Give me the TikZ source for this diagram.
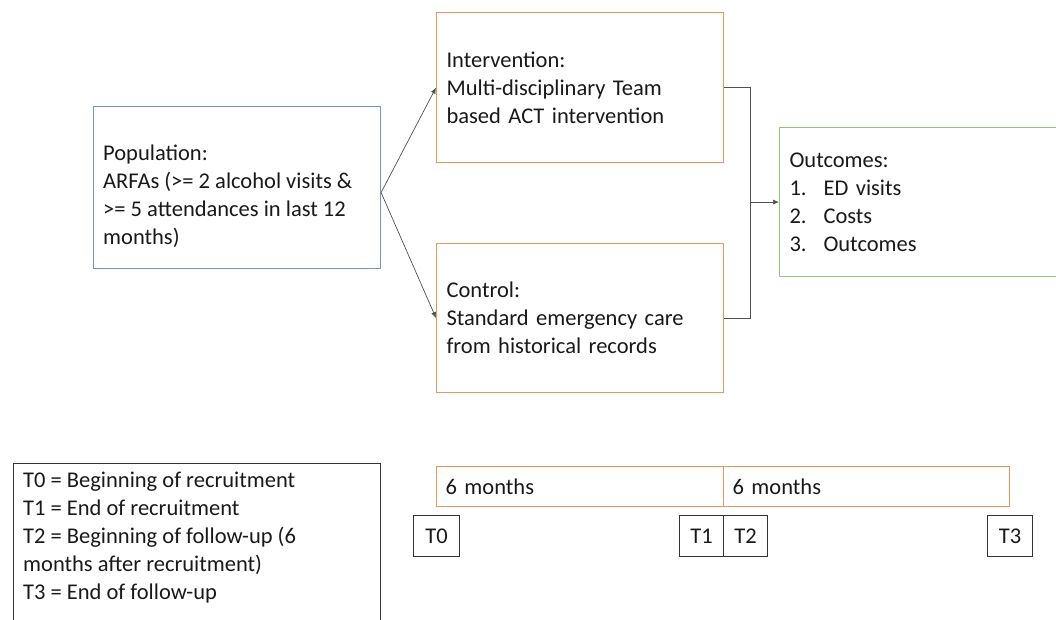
\documentclass[tikz,border=0pt]{standalone}
\usepackage{fontspec}
\setmainfont{Carlito}
\usetikzlibrary{arrows.meta,calc}
\definecolor{borange}{RGB}{232,150,95}
\definecolor{bblue}{RGB}{115,145,205}
\definecolor{bgreen}{RGB}{145,195,115}
\definecolor{conn}{RGB}{80,80,80}
\tikzset{
  box/.style={draw, rectangle, anchor=north west, line width=1.1pt, inner xsep=10pt, inner ysep=0pt,
    align=left, font=\fontsize{22.5}{28}\selectfont, text=black!90},
  txt/.style={anchor=west, inner sep=0pt, align=left, font=\fontsize{22.5}{28}\selectfont, text=black!90},
  tbox/.style={draw=black!80, rectangle, anchor=north west, line width=1pt, inner sep=0pt,
    minimum width=46pt, minimum height=41pt, font=\fontsize{22.5}{24}\selectfont, text=black!90},
  conline/.style={draw=conn, line width=0.7pt},
  arr/.style={conline, -{Latex[length=6pt,width=5pt]}},
}
\begin{document}
\begin{tikzpicture}[x=1pt,y=-1pt]
\useasboundingbox (0,0) rectangle (1056,619);
\clip (0,0) rectangle (1056,619);
% population
\node[box, draw=bblue, minimum width=287pt, minimum height=162pt] (pop) at (93,106) {};
\node[txt] (popt) at (103,196)
  {Population:\\ARFAs (>= 2 alcohol visits \&\\>= 5 attendances in last 12\\months)};
% intervention
\node[box, draw=borange, text width=267pt, minimum height=150pt] (int) at (436,12)
  {Intervention:\\Multi-disciplinary Team\\based ACT intervention};
% control
\node[box, draw=borange, text width=267pt, minimum height=149pt] (ctl) at (436,243)
  {Control:\\Standard emergency care\\from historical records};
% outcomes
\node[box, draw=bgreen, text width=280pt, minimum height=149pt] (out) at (779,127)
  {Outcomes:\\\makebox[34pt][l]{1.}ED visits\\\makebox[34pt][l]{2.}Costs\\\makebox[34pt][l]{3.}Outcomes};
% connectors
\coordinate (j) at (750,0 |- out.west);
\draw[arr] ($(pop.east)+(0,5)$) -- (int.west);
\draw[arr] ($(pop.east)+(0,5)$) -- (ctl.west);
\draw[conline] (int.east) -| (j);
\draw[conline] (ctl.east) -| (j);
\draw[arr] (j) -- (out.west);
% legend
\node[box, draw=black!80, minimum width=367pt, minimum height=170pt] (leg) at (13,463) {};
\node[txt] (legt) at (23,538)
  {T0 = Beginning of recruitment\\T1 = End of recruitment\\T2 = Beginning of follow-up (6\\months after recruitment)\\T3 = End of follow-up};
% timeline
\node[box, draw=borange, inner xsep=9pt, text width=269pt, minimum height=40pt] (m1) at (436,466) {6 months};
\node[box, draw=borange, inner xsep=9pt, text width=268pt, minimum height=40pt] (m2) at (723,466) {6 months};
\node[tbox] (t0) at (413,515) {T0};
\node[tbox, minimum width=44pt] (t1) at (679,515) {T1};
\node[tbox, minimum width=44pt] (t2) at (723,515) {T2};
\node[tbox, minimum width=45pt] (t3) at (987,515) {T3};
\end{tikzpicture}
\end{document}
